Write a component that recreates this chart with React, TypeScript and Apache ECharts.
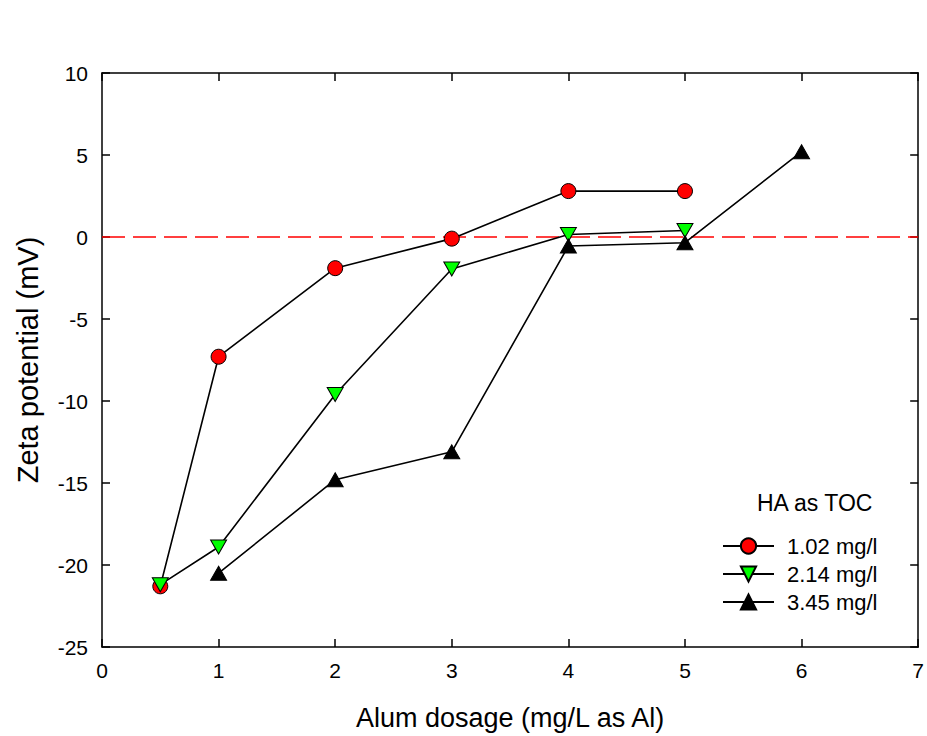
import React, { useEffect, useRef } from "react";
import * as echarts from "echarts";

// Alum dosage (mg/L as Al) versus zeta potential (mV) for three humic acid levels
const dosage1 = [0.5, 1, 2, 3, 4, 5];
const zeta1 = [-21.3, -7.3, -1.9, -0.1, 2.8, 2.8];

const dosage2 = [0.5, 1, 2, 3, 4, 5];
const zeta2 = [-21.2, -18.9, -9.6, -1.95, 0.15, 0.4];

const dosage3 = [1, 2, 3, 4, 5, 6];
const zeta3 = [-20.5, -14.8, -13.1, -0.55, -0.35, 5.2];

// zero reference line across the full dosage range
const zeroLineX = [0, 7];
const zeroLineY = [0, 0];

const seriesNames = ["1.02 mg/l", "2.14 mg/l", "3.45 mg/l"];
const legendTitle = "HA as TOC";

const FONT = "Liberation Sans, Arial, sans-serif";

const pairs = (xs: number[], ys: number[]) => xs.map((x, i) => [x, ys[i]]);

export default function App() {
  const ref = useRef<HTMLDivElement>(null);

  useEffect(() => {
    if (!ref.current) return;
    const chart = echarts.init(ref.current, undefined, { renderer: "svg" });

    const tickStyle = { show: true, inside: true, length: 8, lineStyle: { color: "#000", width: 1.5 } };
    const axisLineStyle = { show: true, onZero: false, lineStyle: { color: "#000", width: 1.5 } };
    const labelStyle = { color: "#000", fontSize: 21, fontFamily: FONT };

    chart.setOption({
      animation: false,
      backgroundColor: "#fff",
      grid: { left: 102, right: 6, top: 73, bottom: 89, containLabel: false },
      xAxis: [
        {
          type: "value",
          min: 0,
          max: 7,
          interval: 1,
          axisLine: axisLineStyle,
          axisTick: tickStyle,
          splitLine: { show: false },
          axisLabel: { ...labelStyle, margin: 13 },
          name: "Alum dosage (mg/L as Al)",
          nameLocation: "middle",
          nameGap: 57,
          nameTextStyle: { color: "#000", fontSize: 27, fontFamily: FONT },
        },
        {
          type: "value",
          position: "top",
          min: 0,
          max: 7,
          interval: 1,
          axisLine: axisLineStyle,
          axisTick: tickStyle,
          splitLine: { show: false },
          axisLabel: { show: false },
        },
      ],
      yAxis: [
        {
          type: "value",
          min: -25,
          max: 10,
          interval: 5,
          axisLine: axisLineStyle,
          axisTick: tickStyle,
          splitLine: { show: false },
          axisLabel: { ...labelStyle, margin: 14 },
          name: "Zeta potential (mV)",
          nameLocation: "middle",
          nameGap: 60,
          nameTextStyle: { color: "#000", fontSize: 29, fontFamily: FONT },
        },
        {
          type: "value",
          position: "right",
          min: -25,
          max: 10,
          interval: 5,
          axisLine: axisLineStyle,
          axisTick: tickStyle,
          splitLine: { show: false },
          axisLabel: { show: false },
        },
      ],
      legend: {
        orient: "vertical",
        left: 722,
        top: 535,
        padding: 0,
        itemWidth: 51,
        itemHeight: 19,
        itemGap: 6,
        textStyle: { color: "#000", fontSize: 22, fontFamily: FONT, padding: [0, 0, 0, 8] },
        data: seriesNames,
      },
      graphic: [
        {
          type: "text",
          left: 757,
          top: 491,
          style: { text: legendTitle, fill: "#000", fontSize: 23, fontFamily: FONT },
        },
      ],
      series: [
        {
          name: "zero",
          type: "line",
          data: pairs(zeroLineX, zeroLineY),
          symbol: "none",
          silent: true,
          z: 1,
          lineStyle: { color: "#ff0000", type: [23, 8], width: 1.5 },
        },
        {
          name: seriesNames[0],
          type: "line",
          data: pairs(dosage1, zeta1),
          symbol: "circle",
          symbolSize: 15,
          z: 3,
          lineStyle: { color: "#000", width: 1.6 },
          itemStyle: { color: "#ff0000", borderColor: "#000", borderWidth: 1 },
        },
        {
          name: seriesNames[1],
          type: "line",
          data: pairs(dosage2, zeta2),
          symbol: "triangle",
          symbolRotate: 180,
          symbolSize: [16, 14],
          z: 4,
          lineStyle: { color: "#000", width: 1.6 },
          itemStyle: { color: "#00ff00", borderColor: "#000", borderWidth: 1 },
        },
        {
          name: seriesNames[2],
          type: "line",
          data: pairs(dosage3, zeta3),
          symbol: "triangle",
          symbolSize: [16, 14],
          z: 5,
          lineStyle: { color: "#000", width: 1.6 },
          itemStyle: { color: "#000", borderColor: "#000", borderWidth: 1 },
        },
      ],
    });

    return () => chart.dispose();
  }, []);

  return (
    <div
      ref={ref}
      style={{ position: "fixed", left: 0, top: 0, width: 927, height: 736, background: "#fff" }}
    />
  );
}
